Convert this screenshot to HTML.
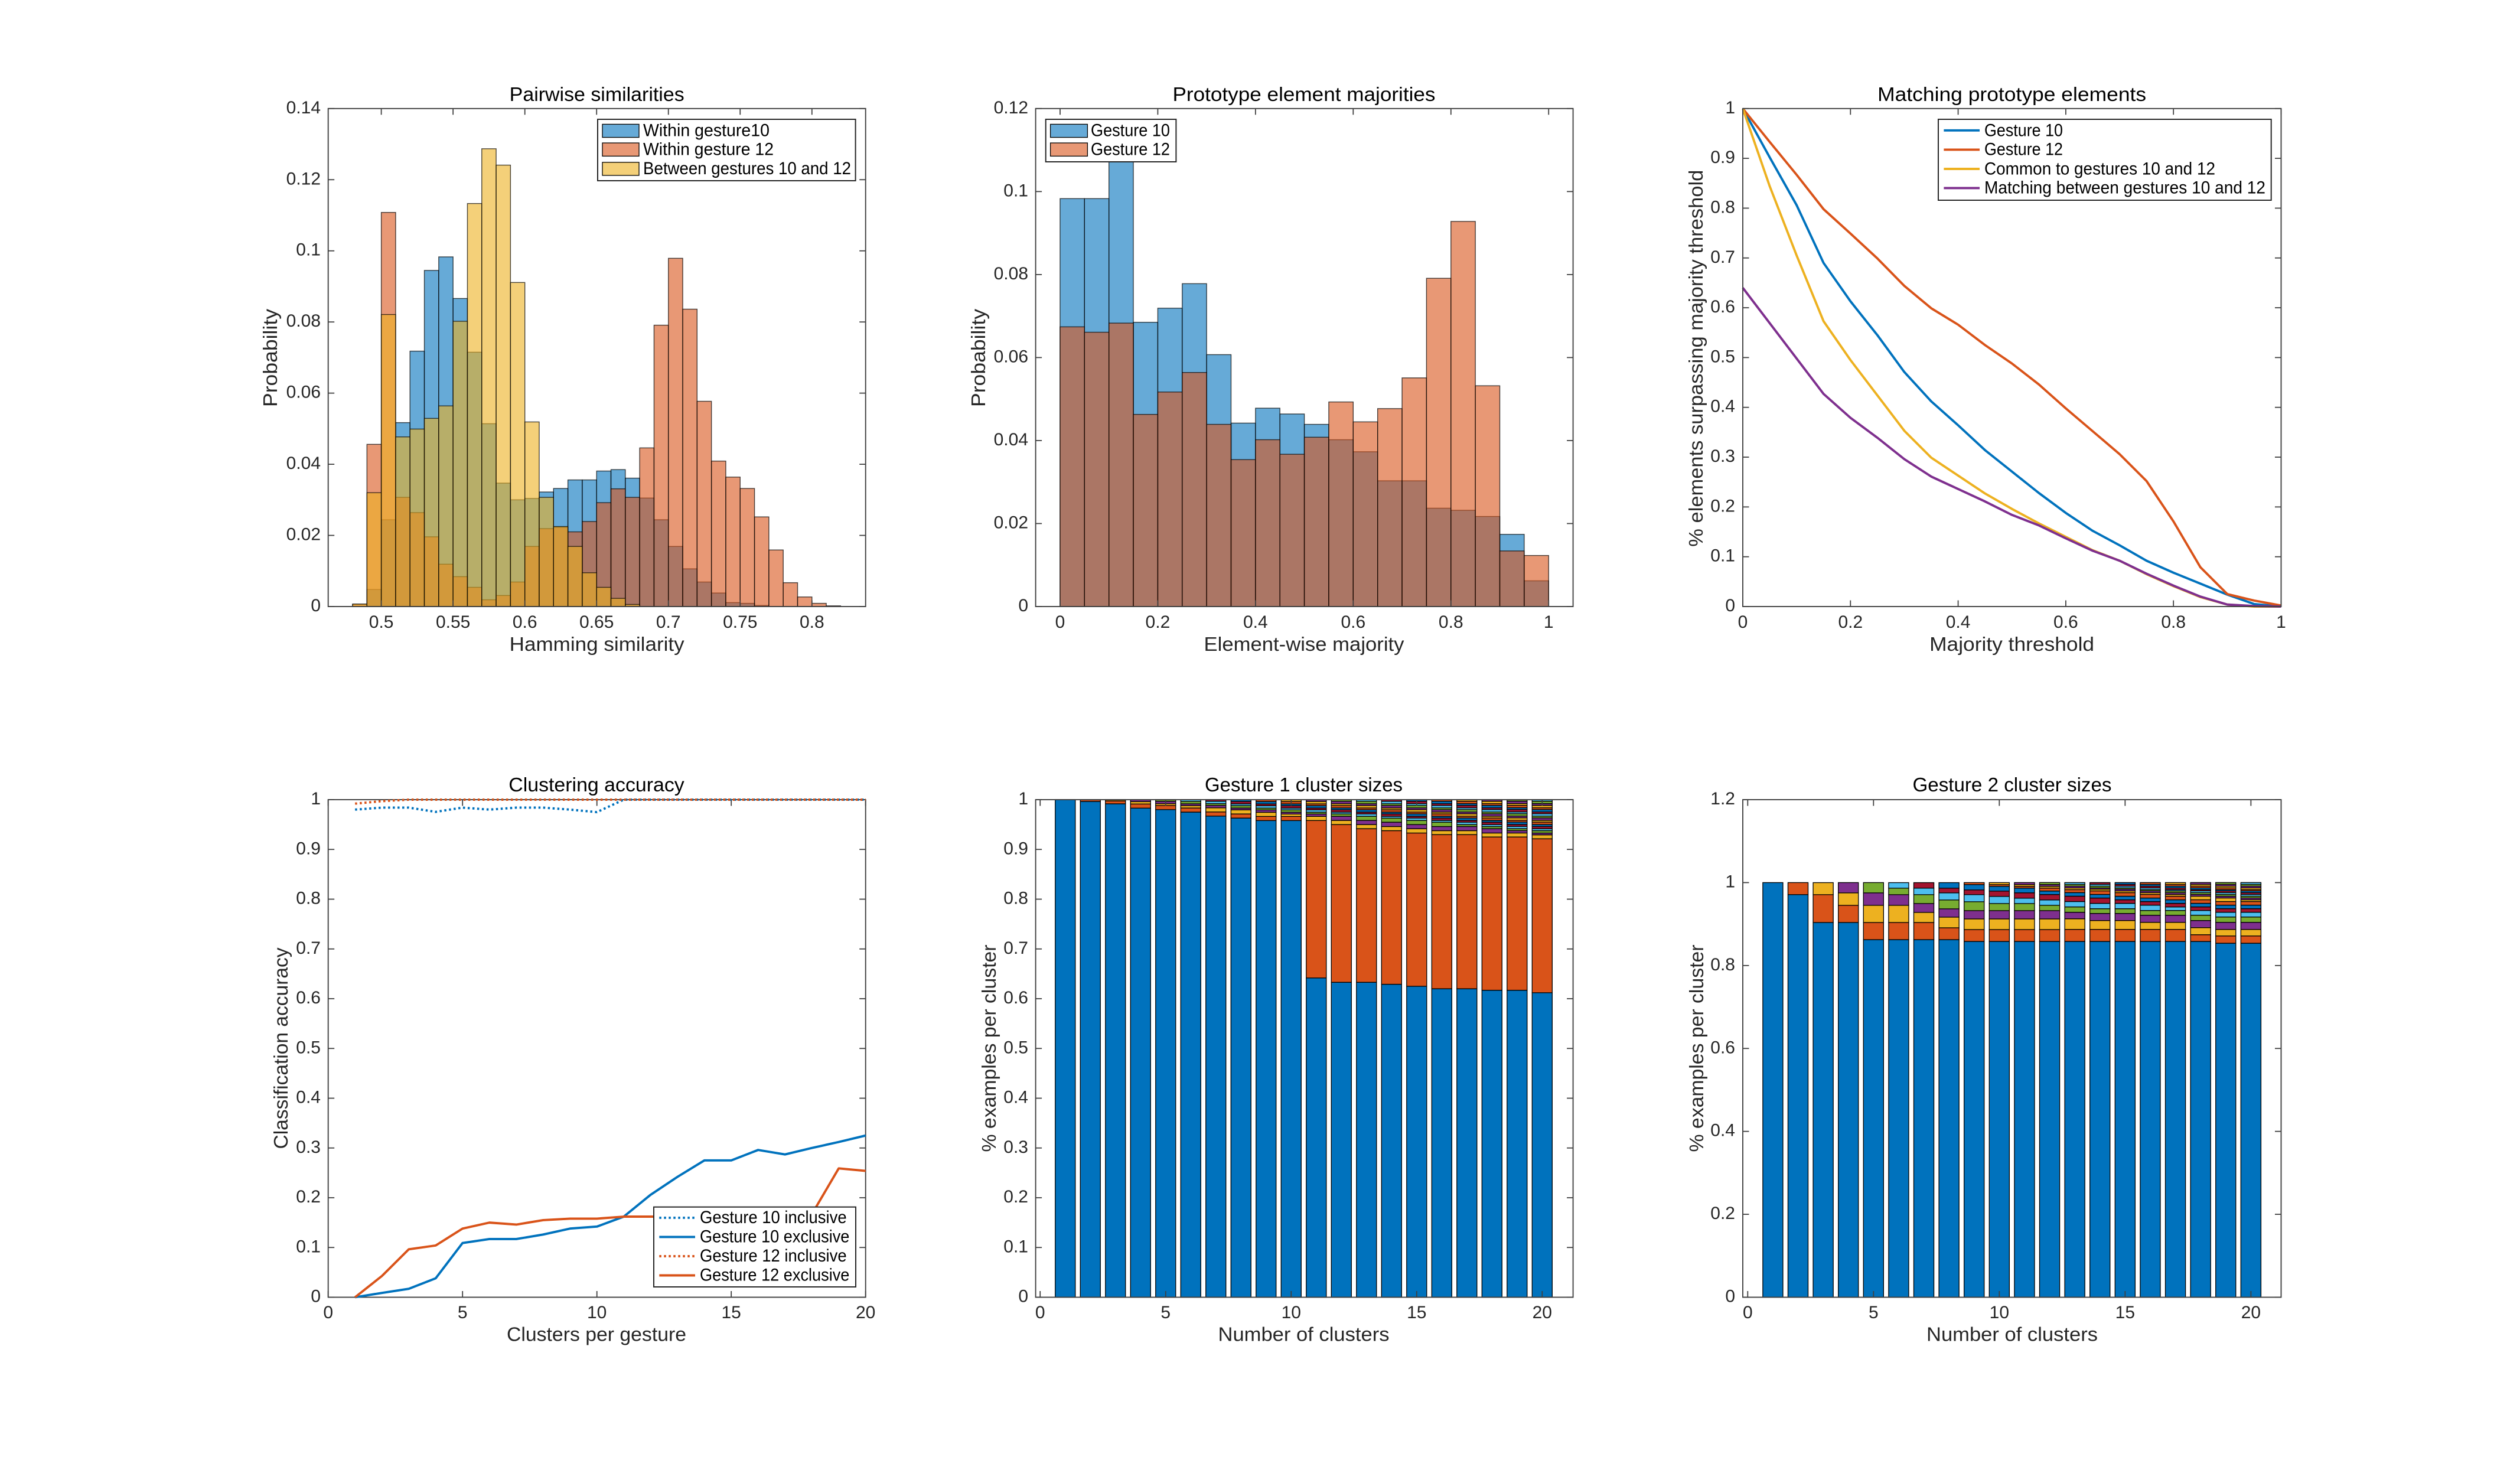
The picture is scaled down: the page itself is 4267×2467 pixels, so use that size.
<!DOCTYPE html>
<html lang="en">
<head>
<meta charset="utf-8">
<title>Gesture clustering figure</title>
<style>
html,body{margin:0;padding:0;background:#fff;}
svg{display:block;}
text{font-family:"Liberation Sans",sans-serif;fill:#262626;}
.title{font-size:33.5px;fill:#000;text-anchor:middle;}
.label{font-size:33.5px;text-anchor:middle;}
.leg{font-size:30px;fill:#000;}
.legbox{fill:#fff;stroke:#262626;stroke-width:2;}
</style>
</head>
<body>
<svg id="figure" xmlns="http://www.w3.org/2000/svg" width="4267" height="2467" viewBox="0 0 4267 2467">
<rect width="4267" height="2467" fill="#fff"/>

<g>
  <g id="marks1"></g>
  <g id="axis1"></g>
  <text class="title" x="1010.7" y="171" textLength="296" lengthAdjust="spacingAndGlyphs">Pairwise similarities</text>
  <text class="label" x="1010.7" y="1102" textLength="296" lengthAdjust="spacingAndGlyphs">Hamming similarity</text>
  <text class="label" transform="translate(469,606) rotate(-90)" textLength="166" lengthAdjust="spacingAndGlyphs">Probability</text>
  <g>
    <rect class="legbox" x="1012" y="202" width="436.6" height="104"/>
    <g>
      <rect x="1020" y="210.4" width="62" height="22.2" fill="#0072BD" fill-opacity="0.6" stroke="#000" stroke-width="1.3"/>
      <text class="leg" x="1089" y="230.6" textLength="214" lengthAdjust="spacingAndGlyphs">Within gesture10</text>
    </g>
    <g>
      <rect x="1020" y="242" width="62" height="22.4" fill="#D95319" fill-opacity="0.6" stroke="#000" stroke-width="1.3"/>
      <text class="leg" x="1089" y="262.5" textLength="221" lengthAdjust="spacingAndGlyphs">Within gesture 12</text>
    </g>
    <g>
      <rect x="1020" y="274.8" width="62" height="22.2" fill="#EDB120" fill-opacity="0.6" stroke="#000" stroke-width="1.3"/>
      <text class="leg" x="1089" y="295" textLength="352" lengthAdjust="spacingAndGlyphs">Between gestures 10 and 12</text>
    </g>
  </g>
</g>

<g>
  <g id="marks2"></g>
  <g id="axis2"></g>
  <text class="title" x="2208" y="171" textLength="445" lengthAdjust="spacingAndGlyphs">Prototype element majorities</text>
  <text class="label" x="2208" y="1102" textLength="339" lengthAdjust="spacingAndGlyphs">Element-wise majority</text>
  <text class="label" transform="translate(1668,606) rotate(-90)" textLength="166" lengthAdjust="spacingAndGlyphs">Probability</text>
  <g>
    <rect class="legbox" x="1770.7" y="202" width="220.7" height="72"/>
    <g>
      <rect x="1778.6" y="210.4" width="62.8" height="22.2" fill="#0072BD" fill-opacity="0.6" stroke="#000" stroke-width="1.3"/>
      <text class="leg" x="1847" y="230.6" textLength="134" lengthAdjust="spacingAndGlyphs">Gesture 10</text>
    </g>
    <g>
      <rect x="1778.6" y="242" width="62.8" height="22.4" fill="#D95319" fill-opacity="0.6" stroke="#000" stroke-width="1.3"/>
      <text class="leg" x="1847" y="262.5" textLength="134" lengthAdjust="spacingAndGlyphs">Gesture 12</text>
    </g>
  </g>
</g>

<g>
  <g id="marks3"></g>
  <g id="axis3"></g>
  <text class="title" x="3406.6" y="171" textLength="455" lengthAdjust="spacingAndGlyphs">Matching prototype elements</text>
  <text class="label" x="3406.6" y="1102" textLength="279" lengthAdjust="spacingAndGlyphs">Majority threshold</text>
  <text class="label" transform="translate(2883,606.7) rotate(-90)" textLength="638" lengthAdjust="spacingAndGlyphs">% elements surpassing majority threshold</text>
  <g>
    <rect class="legbox" x="3282" y="202" width="563.7" height="137"/>
    <g>
      <line x1="3291.4" x2="3352" y1="220.8" y2="220.8" stroke="#0072BD" stroke-width="3.9"/>
      <text class="leg" x="3360" y="230.6" textLength="133" lengthAdjust="spacingAndGlyphs">Gesture 10</text>
    </g>
    <g>
      <line x1="3291.4" x2="3352" y1="253.4" y2="253.4" stroke="#D95319" stroke-width="3.9"/>
      <text class="leg" x="3360" y="262.5" textLength="133" lengthAdjust="spacingAndGlyphs">Gesture 12</text>
    </g>
    <g>
      <line x1="3291.4" x2="3352" y1="286" y2="286" stroke="#EDB120" stroke-width="3.9"/>
      <text class="leg" x="3360" y="295.7" textLength="391" lengthAdjust="spacingAndGlyphs">Common to gestures 10 and 12</text>
    </g>
    <g>
      <line x1="3291.4" x2="3352" y1="318.4" y2="318.4" stroke="#7E2F8E" stroke-width="3.9"/>
      <text class="leg" x="3360" y="327.5" textLength="476" lengthAdjust="spacingAndGlyphs">Matching between gestures 10 and 12</text>
    </g>
  </g>
</g>

<g>
  <g id="marks4"></g>
  <g id="axis4"></g>
  <text class="title" x="1010" y="1340" textLength="297.5" lengthAdjust="spacingAndGlyphs">Clustering accuracy</text>
  <text class="label" x="1010" y="2270.7" textLength="304" lengthAdjust="spacingAndGlyphs">Clusters per gesture</text>
  <text class="label" transform="translate(487,1775) rotate(-90)" textLength="341" lengthAdjust="spacingAndGlyphs">Classification accuracy</text>
  <g>
    <rect class="legbox" x="1107" y="2043.7" width="342" height="135.3"/>
    <g>
      <line x1="1116.3" x2="1177" y1="2061.9" y2="2061.9" stroke="#0072BD" stroke-width="3.9" stroke-dasharray="3.5 4.5"/>
      <text class="leg" x="1185" y="2071" textLength="248.6" lengthAdjust="spacingAndGlyphs">Gesture 10 inclusive</text>
    </g>
    <g>
      <line x1="1116.3" x2="1177" y1="2094.4" y2="2094.4" stroke="#0072BD" stroke-width="3.9"/>
      <text class="leg" x="1185" y="2103.5" textLength="253.4" lengthAdjust="spacingAndGlyphs">Gesture 10 exclusive</text>
    </g>
    <g>
      <line x1="1116.3" x2="1177" y1="2127" y2="2127" stroke="#D95319" stroke-width="3.9" stroke-dasharray="3.5 4.5"/>
      <text class="leg" x="1185" y="2136" textLength="248.6" lengthAdjust="spacingAndGlyphs">Gesture 12 inclusive</text>
    </g>
    <g>
      <line x1="1116.3" x2="1177" y1="2159.5" y2="2159.5" stroke="#D95319" stroke-width="3.9"/>
      <text class="leg" x="1185" y="2168.6" textLength="253.4" lengthAdjust="spacingAndGlyphs">Gesture 12 exclusive</text>
    </g>
  </g>
</g>

<g>
  <g id="marks5"></g>
  <g id="axis5"></g>
  <text class="title" x="2207.5" y="1340" textLength="335" lengthAdjust="spacingAndGlyphs">Gesture 1 cluster sizes</text>
  <text class="label" x="2207.5" y="2270.7" textLength="290" lengthAdjust="spacingAndGlyphs">Number of clusters</text>
  <text class="label" transform="translate(1686,1775) rotate(-90)" textLength="351" lengthAdjust="spacingAndGlyphs">% examples per cluster</text>
</g>

<g>
  <g id="marks6"></g>
  <g id="axis6"></g>
  <text class="title" x="3407" y="1340" textLength="337" lengthAdjust="spacingAndGlyphs">Gesture 2 cluster sizes</text>
  <text class="label" x="3407" y="2270.7" textLength="290" lengthAdjust="spacingAndGlyphs">Number of clusters</text>
  <text class="label" transform="translate(2884,1775) rotate(-90)" textLength="351" lengthAdjust="spacingAndGlyphs">% examples per cluster</text>
</g>
</svg>

<script>
// ---- Chart 1: pairwise similarities ----
const pairwiseBinStarts = [0.48,0.49,0.50,0.51,0.52,0.53,0.54,0.55,0.56,0.57,0.58,0.59,0.60,0.61,0.62,0.63,0.64,0.65,0.66,0.67,0.68,0.69,0.70,0.71,0.72,0.73,0.74,0.75,0.76,0.77,0.78,0.79,0.80,0.81];
const pairwiseWithin10 = [0,0.0048,0.0244,0.0517,0.0718,0.0945,0.0983,0.0866,0.0715,0.0514,0.0347,0.03,0.0304,0.0322,0.0332,0.0356,0.0356,0.0381,0.0385,0.0361,0.0305,0.0244,0.0169,0.0106,0.0069,0.0038,0.0011,0.0009,0.0003,0,0,0,0,0];
const pairwiseWithin12 = [0.0007,0.0456,0.1108,0.0307,0.0264,0.0196,0.0119,0.0084,0.0054,0.0019,0.0031,0.0069,0.0169,0.0219,0.0223,0.021,0.0239,0.0292,0.0331,0.0307,0.0446,0.0791,0.0979,0.0836,0.0577,0.0409,0.0364,0.0332,0.0252,0.0159,0.0067,0.0027,0.0009,0.0002];
const pairwiseBetween = [0.0007,0.032,0.0821,0.0477,0.0499,0.0529,0.0564,0.0802,0.1133,0.1287,0.1241,0.0911,0.0519,0.0307,0.0225,0.0169,0.0095,0.0054,0.0023,0.0006,0,0,0,0,0,0,0,0,0,0,0,0,0,0];
const pairwiseXTicks = [0.5,0.55,0.6,0.65,0.7,0.75,0.8];
const pairwiseXLabels = ['0.5','0.55','0.6','0.65','0.7','0.75','0.8'];
const pairwiseYTicks = [0,0.02,0.04,0.06,0.08,0.1,0.12,0.14];
const pairwiseYLabels = ['0','0.02','0.04','0.06','0.08','0.1','0.12','0.14'];

// ---- Chart 2: prototype element majorities ----
const majorityBinStarts = [0,0.05,0.1,0.15,0.2,0.25,0.3,0.35,0.4,0.45,0.5,0.55,0.6,0.65,0.7,0.75,0.8,0.85,0.9,0.95];
const majorityGesture10 = [0.0983,0.0983,0.108,0.0685,0.0719,0.0778,0.0607,0.0442,0.0478,0.0464,0.0439,0.0402,0.0373,0.0303,0.0303,0.0237,0.0232,0.0217,0.0174,0.0062];
const majorityGesture12 = [0.0674,0.0661,0.0683,0.0463,0.0517,0.0564,0.0439,0.0354,0.0402,0.0367,0.0408,0.0493,0.0445,0.0477,0.0551,0.0791,0.0928,0.0532,0.0134,0.0123];
const majorityXTicks = [0,0.2,0.4,0.6,0.8,1];
const majorityXLabels = ['0','0.2','0.4','0.6','0.8','1'];
const majorityYTicks = [0,0.02,0.04,0.06,0.08,0.1,0.12];
const majorityYLabels = ['0','0.02','0.04','0.06','0.08','0.1','0.12'];

// ---- Chart 3: matching prototype elements ----
const thresholds = [0,0.05,0.1,0.15,0.2,0.25,0.3,0.35,0.4,0.45,0.5,0.55,0.6,0.65,0.7,0.75,0.8,0.85,0.9,0.95,1];
const matchGesture10 = [1,0.902,0.806,0.69,0.613,0.545,0.471,0.412,0.364,0.314,0.271,0.228,0.188,0.152,0.123,0.092,0.068,0.046,0.024,0.005,0];
const matchGesture12 = [1,0.933,0.867,0.798,0.749,0.699,0.644,0.599,0.566,0.525,0.488,0.446,0.398,0.352,0.306,0.252,0.171,0.079,0.025,0.012,0.002];
const matchCommon = [1,0.844,0.705,0.573,0.495,0.424,0.353,0.299,0.263,0.227,0.196,0.167,0.14,0.113,0.092,0.065,0.041,0.019,0.004,0,0];
const matchBetween = [0.64,0.569,0.498,0.427,0.379,0.339,0.296,0.261,0.236,0.211,0.184,0.163,0.137,0.112,0.092,0.066,0.042,0.02,0.004,0.001,0];
const matchXTicks = [0,0.2,0.4,0.6,0.8,1];
const matchXLabels = ['0','0.2','0.4','0.6','0.8','1'];
const matchYTicks = [0,0.1,0.2,0.3,0.4,0.5,0.6,0.7,0.8,0.9,1];
const matchYLabels = ['0','0.1','0.2','0.3','0.4','0.5','0.6','0.7','0.8','0.9','1'];

// ---- Chart 4: clustering accuracy ----
const clusterCounts = [1,2,3,4,5,6,7,8,9,10,11,12,13,14,15,16,17,18,19,20];
const accuracy10Inclusive = [0.98,0.984,0.984,0.9755,0.984,0.98,0.984,0.984,0.98,0.975,1,1,1,1,1,1,1,1,1,1];
const accuracy10Exclusive = [0,0.0087,0.017,0.038,0.109,0.117,0.117,0.126,0.138,0.142,0.162,0.206,0.242,0.275,0.275,0.296,0.287,0.3,0.312,0.325];
const accuracy12Inclusive = [0.992,0.997,1,1,1,1,1,1,1,1,1,1,1,1,1,1,1,1,1,1];
const accuracy12Exclusive = [0,0.0427,0.0964,0.104,0.138,0.15,0.146,0.155,0.158,0.158,0.162,0.162,0.162,0.162,0.162,0.162,0.162,0.167,0.259,0.254];
const accuracyXTicks = [0,5,10,15,20];
const accuracyXLabels = ['0','5','10','15','20'];
const accuracyYTicks = [0,0.1,0.2,0.3,0.4,0.5,0.6,0.7,0.8,0.9,1];
const accuracyYLabels = ['0','0.1','0.2','0.3','0.4','0.5','0.6','0.7','0.8','0.9','1'];

// ---- Chart 5: gesture 1 cluster sizes (one list per cluster count) ----
const gesture1Sizes = [
[1],
[0.9964,0.0036],
[0.9917,0.0058,0.0025],
[0.983,0.0083,0.0048,0.0036],
[0.98,0.0083,0.0036,0.0048,0.0036],
[0.975,0.0083,0.0048,0.0036,0.0048,0.0036],
[0.967,0.0083,0.0083,0.0048,0.0036,0.0048,0.0036],
[0.963,0.0083,0.0083,0.0036,0.0048,0.0036,0.0048,0.0036],
[0.958,0.0083,0.0083,0.0048,0.0036,0.0048,0.0036,0.0048,0.0036],
[0.958,0.0083,0.0048,0.0036,0.0048,0.0036,0.0048,0.0036,0.0048,0.0036],
[0.6417,0.3164,0.0083,0.0048,0.0036,0.0048,0.0036,0.0048,0.0036,0.0048,0.0036],
[0.633,0.317,0.0083,0.0083,0.0048,0.0036,0.0048,0.0036,0.0048,0.0036,0.0048,0.0034],
[0.633,0.3087,0.0083,0.0083,0.0083,0.0048,0.0036,0.0048,0.0036,0.0048,0.0036,0.0048,0.0034],
[0.629,0.3087,0.0083,0.0087,0.0083,0.0036,0.0048,0.0036,0.0048,0.0036,0.0048,0.0036,0.0048,0.0034],
[0.625,0.308,0.0087,0.0083,0.0083,0.0048,0.0036,0.0048,0.0036,0.0048,0.0036,0.0048,0.0036,0.0048,0.0033],
[0.62,0.3098,0.0079,0.0083,0.0087,0.0036,0.0048,0.0036,0.0048,0.0036,0.0048,0.0036,0.0048,0.0036,0.0048,0.0033],
[0.62,0.3098,0.0079,0.0083,0.004,0.0048,0.0036,0.0048,0.0036,0.0048,0.0036,0.0048,0.0036,0.0048,0.0036,0.0048,0.0032],
[0.617,0.308,0.008,0.0087,0.0043,0.004,0.0048,0.0036,0.0048,0.0036,0.0048,0.0036,0.0048,0.0036,0.0048,0.0036,0.0048,0.0032],
[0.617,0.308,0.008,0.0048,0.004,0.0044,0.004,0.0048,0.0036,0.0048,0.0036,0.0048,0.0036,0.0048,0.0036,0.0048,0.0036,0.0048,0.003],
[0.612,0.3094,0.0079,0.0036,0.0048,0.004,0.0044,0.004,0.0048,0.0036,0.0048,0.0036,0.0048,0.0036,0.0048,0.0036,0.0048,0.0036,0.0048,0.0031]
];
const gesture1XTicks = [0,5,10,15,20];
const gesture1XLabels = ['0','5','10','15','20'];
const gesture1YTicks = [0,0.1,0.2,0.3,0.4,0.5,0.6,0.7,0.8,0.9,1];
const gesture1YLabels = ['0','0.1','0.2','0.3','0.4','0.5','0.6','0.7','0.8','0.9','1'];

// ---- Chart 6: gesture 2 cluster sizes (one list per cluster count) ----
const gesture2Sizes = [
[1],
[0.971,0.029],
[0.9038,0.0671,0.029],
[0.9038,0.0414,0.03,0.0248],
[0.8624,0.0414,0.0414,0.03,0.0248],
[0.8624,0.0414,0.0414,0.0257,0.0157,0.0133],
[0.8624,0.0414,0.0243,0.0214,0.0214,0.0157,0.0133],
[0.8624,0.0286,0.0257,0.02,0.0214,0.0171,0.0114,0.0133],
[0.8581,0.0286,0.0257,0.02,0.0214,0.0171,0.0114,0.0129,0.0048],
[0.8581,0.0286,0.0257,0.02,0.0171,0.0171,0.0129,0.0114,0.0043,0.0048],
[0.8581,0.0286,0.0257,0.02,0.0171,0.0129,0.0129,0.0114,0.0043,0.0043,0.0048],
[0.8581,0.0286,0.0257,0.02,0.0129,0.0129,0.0129,0.0086,0.0071,0.0043,0.0043,0.0048],
[0.8581,0.029,0.0257,0.0157,0.0129,0.0129,0.0129,0.0086,0.0071,0.0043,0.0043,0.0043,0.0043],
[0.8581,0.029,0.0214,0.0171,0.0114,0.0129,0.0129,0.0086,0.0086,0.0043,0.0029,0.0043,0.0043,0.0043],
[0.8581,0.029,0.0214,0.0171,0.0114,0.0129,0.0086,0.0086,0.0086,0.0043,0.0043,0.0029,0.0043,0.0043,0.0043],
[0.8581,0.029,0.0171,0.0171,0.0114,0.0129,0.0086,0.0086,0.0086,0.0043,0.0043,0.0029,0.0043,0.0043,0.0043,0.0043],
[0.8581,0.029,0.0171,0.0171,0.0114,0.0086,0.0086,0.0086,0.0086,0.0043,0.0043,0.0043,0.0029,0.0043,0.0043,0.0043,0.0043],
[0.8581,0.0162,0.0171,0.0171,0.0129,0.0114,0.0086,0.0086,0.0086,0.0086,0.0043,0.0043,0.0043,0.0029,0.0043,0.0043,0.0043,0.0043],
[0.8538,0.0176,0.0157,0.0171,0.0129,0.0114,0.0086,0.0086,0.0086,0.0086,0.0043,0.0043,0.0043,0.0043,0.0029,0.0043,0.0043,0.0043,0.0043],
[0.8538,0.0176,0.0157,0.0171,0.0129,0.0114,0.0086,0.0086,0.0086,0.0043,0.0043,0.0043,0.0043,0.0043,0.0043,0.0029,0.0043,0.0043,0.0043,0.0043]
];
const gesture2XTicks = [0,5,10,15,20];
const gesture2XLabels = ['0','5','10','15','20'];
const gesture2YTicks = [0,0.2,0.4,0.6,0.8,1,1.2];
const gesture2YLabels = ['0','0.2','0.4','0.6','0.8','1','1.2'];

// ---- Drawing ----
const SVG_NS = 'http://www.w3.org/2000/svg';
const BLUE = '#0072BD', RED = '#D95319', YELLOW = '#EDB120', PURPLE = '#7E2F8E';
const clusterColors = [BLUE, RED, YELLOW, PURPLE, '#77AC30', '#4DBEEE', '#A2142F'];

const panel1 = {left:555.7,right:1465.7,top:183.8,bottom:1027,xMin:0.463,xMax:0.8374,yMin:0,yMax:0.14,yLabelX:543,xLabelY:1063};
const panel2 = {left:1753.6,right:2663.6,top:183.8,bottom:1027,xMin:-0.05,xMax:1.05,yMin:0,yMax:0.12,yLabelX:1741,xLabelY:1063};
const panel3 = {left:2951,right:3862.5,top:183.8,bottom:1027,xMin:0,xMax:1,yMin:0,yMax:1,yLabelX:2938,xLabelY:1063};
const panel4 = {left:555.7,right:1465.7,top:1354,bottom:2196.5,xMin:0,xMax:20,yMin:0,yMax:1,yLabelX:543,xLabelY:2232};
const panel5 = {left:1753.6,right:2663.6,top:1354,bottom:2196.5,xMin:-0.18,xMax:21.23,yMin:0,yMax:1,yLabelX:1741,xLabelY:2232};
const panel6 = {left:2951,right:3862.5,top:1354,bottom:2196.5,xMin:-0.195,xMax:21.2,yMin:0,yMax:1.2,yLabelX:2938,xLabelY:2232};

function xScale(p, v) { return p.left + (v - p.xMin) / (p.xMax - p.xMin) * (p.right - p.left); }
function yScale(p, v) { return p.bottom - (v - p.yMin) / (p.yMax - p.yMin) * (p.bottom - p.top); }
function make(tag, parent, attrs) {
  const el = document.createElementNS(SVG_NS, tag);
  for (const k in attrs) el.setAttribute(k, attrs[k]);
  parent.appendChild(el);
  return el;
}

function drawHistogram(parent, p, starts, binWidth, values, color, seriesName) {
  values.forEach(function (v, i) {
    if (v <= 0) return;
    const x0 = xScale(p, starts[i]);
    const x1 = xScale(p, starts[i] + binWidth);
    const y0 = yScale(p, v);
    const bar = make('rect', parent, {x: x0, y: y0, width: x1 - x0, height: p.bottom - y0, fill: color, 'fill-opacity': 0.6, stroke: '#000', 'stroke-opacity': 0.7, 'stroke-width': 1.4});
    
    
  });
}

function drawLine(parent, p, xs, ys, color, seriesName, dash) {
  const pts = xs.map(function (x, i) { return xScale(p, x).toFixed(2) + ',' + yScale(p, ys[i]).toFixed(2); }).join(' ');
  const line = make('polyline', parent, {points: pts, fill: 'none', stroke: color, 'stroke-width': 3.9, 'stroke-linejoin': 'round'});
  if (dash) line.setAttribute('stroke-dasharray', dash);
  
  
}

function drawStacks(parent, p, groups, seriesName) {
  const barWidth = 0.8;
  groups.forEach(function (sizes, g) {
    const center = g + 1;
    let cum = 0;
    sizes.forEach(function (size, s) {
      const y0 = yScale(p, cum + size);
      const y1 = yScale(p, cum);
      const x0 = xScale(p, center - barWidth / 2);
      const x1 = xScale(p, center + barWidth / 2);
      const seg = make('rect', parent, {x: x0, y: y0, width: x1 - x0, height: y1 - y0, fill: clusterColors[s % clusterColors.length], stroke: '#000', 'stroke-width': 1.3});
      
      
      cum += size;
    });
  });
}

function drawAxes(parent, p, xTicks, xLabels, yTicks, yLabels) {
  const frame = make('rect', parent, {x: p.left, y: p.top, width: p.right - p.left, height: p.bottom - p.top, fill: 'none', stroke: '#404040', 'stroke-width': 1.9});
  
  
  const len = 10.5;
  xTicks.forEach(function (v, i) {
    const x = xScale(p, v);
    const b = make('line', parent, {x1: x, x2: x, y1: p.bottom, y2: p.bottom - len, stroke: '#404040', 'stroke-width': 1.8});
    
    
    const t = make('line', parent, {x1: x, x2: x, y1: p.top, y2: p.top + len, stroke: '#404040', 'stroke-width': 1.8});
    
    
    const lab = make('text', parent, {x: x, y: p.xLabelY, 'font-size': 30, 'text-anchor': 'middle'});
    lab.textContent = xLabels[i];
    
    
  });
  yTicks.forEach(function (v, i) {
    const y = yScale(p, v);
    const l = make('line', parent, {x1: p.left, x2: p.left + len, y1: y, y2: y, stroke: '#404040', 'stroke-width': 1.8});
    
    
    const r = make('line', parent, {x1: p.right, x2: p.right - len, y1: y, y2: y, stroke: '#404040', 'stroke-width': 1.8});
    
    
    const lab = make('text', parent, {x: p.yLabelX, y: y + 8, 'font-size': 30, 'text-anchor': 'end'});
    lab.textContent = yLabels[i];
    
    
  });
}

function byId(id) { return document.getElementById(id); }

drawHistogram(byId('marks1'), panel1, pairwiseBinStarts, 0.01, pairwiseWithin10, BLUE, 'within-gesture-10');
drawHistogram(byId('marks1'), panel1, pairwiseBinStarts, 0.01, pairwiseWithin12, RED, 'within-gesture-12');
drawHistogram(byId('marks1'), panel1, pairwiseBinStarts, 0.01, pairwiseBetween, YELLOW, 'between-gestures');
drawAxes(byId('axis1'), panel1, pairwiseXTicks, pairwiseXLabels, pairwiseYTicks, pairwiseYLabels);

drawHistogram(byId('marks2'), panel2, majorityBinStarts, 0.05, majorityGesture10, BLUE, 'gesture-10');
drawHistogram(byId('marks2'), panel2, majorityBinStarts, 0.05, majorityGesture12, RED, 'gesture-12');
drawAxes(byId('axis2'), panel2, majorityXTicks, majorityXLabels, majorityYTicks, majorityYLabels);

drawLine(byId('marks3'), panel3, thresholds, matchGesture10, BLUE, 'gesture-10');
drawLine(byId('marks3'), panel3, thresholds, matchGesture12, RED, 'gesture-12');
drawLine(byId('marks3'), panel3, thresholds, matchCommon, YELLOW, 'common');
drawLine(byId('marks3'), panel3, thresholds, matchBetween, PURPLE, 'matching-between');
drawAxes(byId('axis3'), panel3, matchXTicks, matchXLabels, matchYTicks, matchYLabels);

drawAxes(byId('axis4'), panel4, accuracyXTicks, accuracyXLabels, accuracyYTicks, accuracyYLabels);
drawLine(byId('marks4'), panel4, clusterCounts, accuracy10Inclusive, BLUE, 'gesture-10-inclusive', '3.5 4.5');
drawLine(byId('marks4'), panel4, clusterCounts, accuracy10Exclusive, BLUE, 'gesture-10-exclusive');
drawLine(byId('marks4'), panel4, clusterCounts, accuracy12Inclusive, RED, 'gesture-12-inclusive', '3.5 4.5');
drawLine(byId('marks4'), panel4, clusterCounts, accuracy12Exclusive, RED, 'gesture-12-exclusive');
byId('marks4').parentNode.insertBefore(byId('axis4'), byId('marks4'));

drawStacks(byId('marks5'), panel5, gesture1Sizes, 'gesture-1');
drawAxes(byId('axis5'), panel5, gesture1XTicks, gesture1XLabels, gesture1YTicks, gesture1YLabels);

drawStacks(byId('marks6'), panel6, gesture2Sizes, 'gesture-2');
drawAxes(byId('axis6'), panel6, gesture2XTicks, gesture2XLabels, gesture2YTicks, gesture2YLabels);
</script>
</body>
</html>
